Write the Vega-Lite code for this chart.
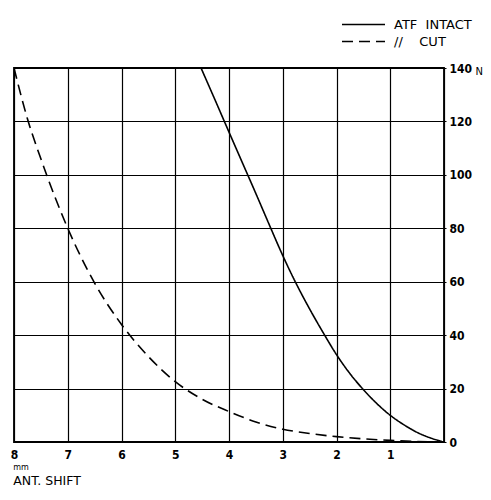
{
  "$schema": "https://vega.github.io/schema/vega-lite/v6.json",
  "width": 430,
  "height": 374,
  "autosize": {"type": "none"},
  "padding": {"left": 14, "top": 68, "right": 47, "bottom": 58},
  "background": "white",
  "config": {
    "view": {"stroke": "black", "strokeWidth": 1.8},
    "font": "DejaVu Sans"
  },
  "title": {
    "text": "mm",
    "subtitle": "ANT.\u00a0SHIFT",
    "orient": "bottom",
    "anchor": "start",
    "offset": 4,
    "dx": 3,
    "font": "DejaVu Sans",
    "fontSize": 8,
    "fontWeight": "normal",
    "color": "black",
    "subtitleFont": "DejaVu Sans",
    "subtitleFontSize": 12.5,
    "subtitleColor": "black",
    "subtitlePadding": 3
  },
  "data": {
    "values": [
      {"shift": 4.52, "force": 140, "series": "ATF\u00a0\u00a0INTACT"},
      {"shift": 4.25, "force": 127.6, "series": "ATF\u00a0\u00a0INTACT"},
      {"shift": 4.0, "force": 116, "series": "ATF\u00a0\u00a0INTACT"},
      {"shift": 3.75, "force": 104.5, "series": "ATF\u00a0\u00a0INTACT"},
      {"shift": 3.5, "force": 93, "series": "ATF\u00a0\u00a0INTACT"},
      {"shift": 3.25, "force": 81.3, "series": "ATF\u00a0\u00a0INTACT"},
      {"shift": 3.0, "force": 69.8, "series": "ATF\u00a0\u00a0INTACT"},
      {"shift": 2.75, "force": 59.3, "series": "ATF\u00a0\u00a0INTACT"},
      {"shift": 2.5, "force": 49.8, "series": "ATF\u00a0\u00a0INTACT"},
      {"shift": 2.25, "force": 41, "series": "ATF\u00a0\u00a0INTACT"},
      {"shift": 2.0, "force": 32.7, "series": "ATF\u00a0\u00a0INTACT"},
      {"shift": 1.75, "force": 25.6, "series": "ATF\u00a0\u00a0INTACT"},
      {"shift": 1.5, "force": 19.6, "series": "ATF\u00a0\u00a0INTACT"},
      {"shift": 1.25, "force": 14.4, "series": "ATF\u00a0\u00a0INTACT"},
      {"shift": 1.0, "force": 10, "series": "ATF\u00a0\u00a0INTACT"},
      {"shift": 0.75, "force": 6.5, "series": "ATF\u00a0\u00a0INTACT"},
      {"shift": 0.5, "force": 3.6, "series": "ATF\u00a0\u00a0INTACT"},
      {"shift": 0.25, "force": 1.5, "series": "ATF\u00a0\u00a0INTACT"},
      {"shift": 0.0, "force": 0, "series": "ATF\u00a0\u00a0INTACT"},
      {"shift": 8.0, "force": 140, "series": "//\u00a0\u00a0\u00a0\u00a0CUT"},
      {"shift": 7.75, "force": 121, "series": "//\u00a0\u00a0\u00a0\u00a0CUT"},
      {"shift": 7.5, "force": 106, "series": "//\u00a0\u00a0\u00a0\u00a0CUT"},
      {"shift": 7.0, "force": 80, "series": "//\u00a0\u00a0\u00a0\u00a0CUT"},
      {"shift": 6.5, "force": 59.5, "series": "//\u00a0\u00a0\u00a0\u00a0CUT"},
      {"shift": 6.0, "force": 44, "series": "//\u00a0\u00a0\u00a0\u00a0CUT"},
      {"shift": 5.5, "force": 32, "series": "//\u00a0\u00a0\u00a0\u00a0CUT"},
      {"shift": 5.0, "force": 22.6, "series": "//\u00a0\u00a0\u00a0\u00a0CUT"},
      {"shift": 4.5, "force": 16, "series": "//\u00a0\u00a0\u00a0\u00a0CUT"},
      {"shift": 4.0, "force": 11.4, "series": "//\u00a0\u00a0\u00a0\u00a0CUT"},
      {"shift": 3.5, "force": 7.5, "series": "//\u00a0\u00a0\u00a0\u00a0CUT"},
      {"shift": 3.0, "force": 4.8, "series": "//\u00a0\u00a0\u00a0\u00a0CUT"},
      {"shift": 2.5, "force": 3.2, "series": "//\u00a0\u00a0\u00a0\u00a0CUT"},
      {"shift": 2.0, "force": 2, "series": "//\u00a0\u00a0\u00a0\u00a0CUT"},
      {"shift": 1.5, "force": 1.2, "series": "//\u00a0\u00a0\u00a0\u00a0CUT"},
      {"shift": 1.0, "force": 0.6, "series": "//\u00a0\u00a0\u00a0\u00a0CUT"},
      {"shift": 0.5, "force": 0.2, "series": "//\u00a0\u00a0\u00a0\u00a0CUT"},
      {"shift": 0.0, "force": 0, "series": "//\u00a0\u00a0\u00a0\u00a0CUT"}
    ]
  },
  "mark": {"type": "line", "color": "black", "strokeWidth": 1.6, "interpolate": "monotone", "clip": true},
  "encoding": {
    "x": {
      "field": "shift",
      "type": "quantitative",
      "scale": {"domain": [0, 8], "reverse": true, "nice": false},
      "axis": {
        "values": [0, 1, 2, 3, 4, 5, 6, 7, 8],
        "labelExpr": "datum.value == 0 ? '' : datum.label",
        "title": null,
        "grid": true,
        "gridColor": "black",
        "gridOpacity": 1,
        "gridWidth": 1.2,
        "domain": false,
        "ticks": false,
        "labelPadding": 7,
        "labelFont": "DejaVu Sans Condensed",
        "labelFontWeight": "bold",
        "labelFontSize": 12,
        "labelColor": "black",
        "labelFlush": false
      }
    },
    "y": {
      "field": "force",
      "type": "quantitative",
      "scale": {"domain": [0, 140], "nice": false},
      "axis": {
        "orient": "right",
        "values": [0, 20, 40, 60, 80, 100, 120, 140],
        "title": "N",
        "titleAngle": 0,
        "titleX": 31,
        "titleY": 3,
        "titleAlign": "left",
        "titleBaseline": "middle",
        "titleFont": "DejaVu Sans",
        "titleFontSize": 10,
        "titleFontWeight": "normal",
        "titleColor": "black",
        "grid": true,
        "gridColor": "black",
        "gridOpacity": 1,
        "gridWidth": 1.2,
        "domain": false,
        "ticks": true,
        "tickSize": 2,
        "tickColor": "black",
        "labelPadding": 3,
        "labelFont": "DejaVu Sans Condensed",
        "labelFontWeight": "bold",
        "labelFontSize": 12,
        "labelColor": "black",
        "labelFlush": false
      }
    },
    "strokeDash": {
      "field": "series",
      "type": "nominal",
      "scale": {"domain": ["ATF\u00a0\u00a0INTACT", "//\u00a0\u00a0\u00a0\u00a0CUT"], "range": [[1, 0], [11, 6]]},
      "legend": {
        "title": null,
        "orient": "none",
        "legendX": 327,
        "legendY": -52,
        "symbolType": "stroke",
        "symbolSize": 1849,
        "symbolStrokeWidth": 1.4,
        "symbolStrokeColor": "black",
        "clipHeight": 17,
        "rowPadding": 0,
        "labelFont": "DejaVu Sans",
        "labelFontSize": 13,
        "labelColor": "black",
        "labelOffset": 8
      }
    }
  }
}
